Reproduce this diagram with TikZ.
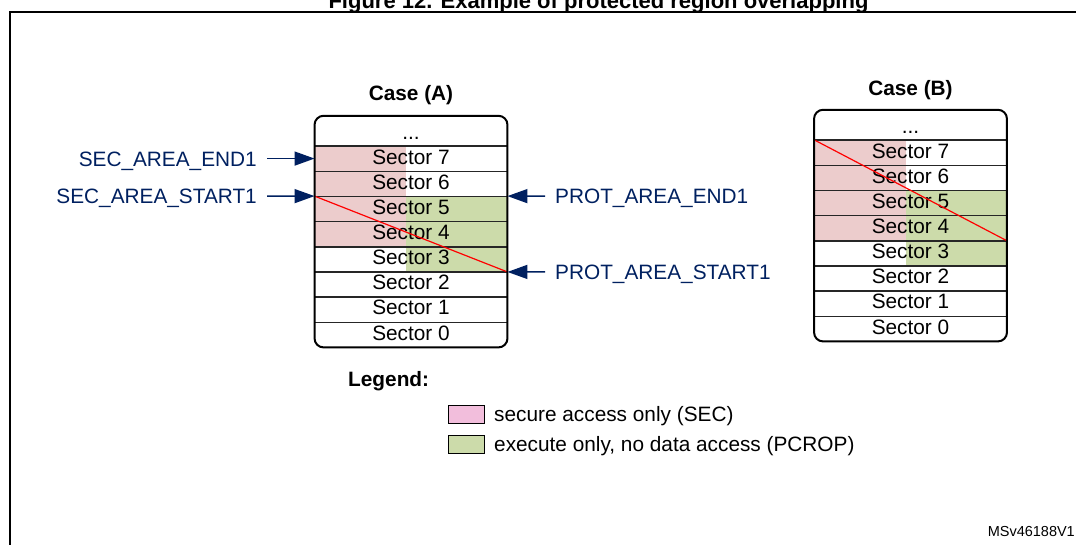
\documentclass[tikz,border=0pt]{standalone}
\usepackage{fontspec}
\setmainfont{Liberation Sans}
\usetikzlibrary{arrows.meta,backgrounds}
\definecolor{navy}{RGB}{0,32,96}
\definecolor{secfill}{RGB}{236,204,204}
\definecolor{protfill}{RGB}{204,219,170}
\definecolor{keysec}{RGB}{242,190,220}

\begin{document}
\begin{tikzpicture}[x=1pt,y=-1pt,
  font=\fontsize{20.8}{25}\selectfont,
  sector/.style={minimum width=192.5pt,minimum height=25.15pt,inner sep=0pt,
    text height=15pt,text depth=4pt},
  dotsrow/.style={minimum width=192.5pt,minimum height=30pt,inner sep=0pt,
    text height=19pt,text depth=1pt},
  rowline/.style={line width=1.5pt,black!85},
  blockbox/.style={line width=2pt,rounded corners=9pt},
  crossline/.style={red,line width=1.2pt},
  ptr/.style={navy,line width=1.5pt,-{Triangle[length=20pt,width=14pt]}},
  lbl/.style={text=navy,text height=15pt,text depth=0pt,inner ysep=0pt,inner xsep=10pt},
  casehead/.style={font=\fontsize{20.8}{25}\selectfont\bfseries},
  keybox/.style={draw,line width=1pt,minimum width=36pt,minimum height=18pt,inner sep=0pt}]
\useasboundingbox (0,0) rectangle (1076,545);
\node[font=\fontsize{22}{26}\selectfont\bfseries,anchor=base] (title) at (598.5,9) {Figure 12. Example of protected region overlapping};
\draw[line width=2pt] (10,545) -- (10,12.5) -- (1076,12.5);
% case (A)
\node[casehead] (caseA) at (411,95) {Case (A)};
\node[dotsrow] (adots) at (411,131) {...};
\node[sector] (a7) at (411,158.575) {Sector 7};
\node[sector] (a6) at (411,183.725) {Sector 6};
\node[sector] (a5) at (411,208.875) {Sector 5};
\node[sector] (a4) at (411,234.025) {Sector 4};
\node[sector] (a3) at (411,259.175) {Sector 3};
\node[sector] (a2) at (411,284.325) {Sector 2};
\node[sector] (a1) at (411,309.475) {Sector 1};
\node[sector] (a0) at (411,334.625) {Sector 0};
\begin{scope}[on background layer]
\fill[secfill] (a7.north west) rectangle ([xshift=-5pt]a4.south);
\fill[protfill] ([xshift=-5pt]a5.north) rectangle (a3.south east);
\end{scope}
\draw[rowline] (adots.south west) -- (adots.south east);
\draw[rowline] (a7.south west) -- (a7.south east);
\draw[rowline] (a6.south west) -- (a6.south east);
\draw[rowline] (a5.south west) -- (a5.south east);
\draw[rowline] (a4.south west) -- (a4.south east);
\draw[rowline] (a3.south west) -- (a3.south east);
\draw[rowline] (a2.south west) -- (a2.south east);
\draw[rowline] (a1.south west) -- (a1.south east);
\draw[crossline] (a5.north west) -- (a3.south east);
\draw[blockbox] (adots.north west) rectangle (a0.south east);
% pointers of case (A)
\node[lbl,anchor=east] (secEnd) at (267,158.575) {SEC\_AREA\_END1};
\node[lbl,anchor=east] (secStart) at (267,196.3) {SEC\_AREA\_START1};
\node[lbl,anchor=west] (protEnd) at (545,196.3) {PROT\_AREA\_END1};
\node[lbl,anchor=west] (protStart) at (545,271.75) {PROT\_AREA\_START1};
\draw[ptr] (secEnd) -- (a7.west);
\draw[ptr] (secStart) -- (a5.north west);
\draw[ptr] (protEnd) -- (a5.north east);
\draw[ptr] (protStart) -- (a3.south east);
% case (B)
\node[casehead] (caseB) at (910.5,90.3) {Case (B)};
\node[dotsrow] (bdots) at (910.5,125) {...};
\node[sector] (b7) at (910.5,152.575) {Sector 7};
\node[sector] (b6) at (910.5,177.725) {Sector 6};
\node[sector] (b5) at (910.5,202.875) {Sector 5};
\node[sector] (b4) at (910.5,228.025) {Sector 4};
\node[sector] (b3) at (910.5,253.175) {Sector 3};
\node[sector] (b2) at (910.5,278.325) {Sector 2};
\node[sector] (b1) at (910.5,303.475) {Sector 1};
\node[sector] (b0) at (910.5,328.625) {Sector 0};
\begin{scope}[on background layer]
\fill[secfill] (b7.north west) rectangle ([xshift=-4.5pt]b4.south);
\fill[protfill] ([xshift=-4.5pt]b5.north) rectangle (b3.south east);
\end{scope}
\draw[rowline] (bdots.south west) -- (bdots.south east);
\draw[rowline] (b7.south west) -- (b7.south east);
\draw[rowline] (b6.south west) -- (b6.south east);
\draw[rowline] (b5.south west) -- (b5.south east);
\draw[rowline] (b4.south west) -- (b4.south east);
\draw[rowline] (b3.south west) -- (b3.south east);
\draw[rowline] (b2.south west) -- (b2.south east);
\draw[rowline] (b1.south west) -- (b1.south east);
\draw[crossline] (b7.north west) -- (b4.south east);
\draw[blockbox] (bdots.north west) rectangle (b0.south east);
% legend
\node[casehead,anchor=base west,inner sep=0pt] (lgHead) at (348,386.3) {Legend:};
\node[keybox,fill=keysec] (keySec) at (466,414) {};
\node[keybox,fill=protfill] (keyProt) at (466,444) {};
\node[anchor=base west,inner sep=0pt] (keySecTxt) at (494,421.3) {secure access only (SEC)};
\node[anchor=base west,inner sep=0pt] (keyProtTxt) at (494,451.3) {execute only, no data access (PCROP)};
\node[font=\fontsize{14.5}{17}\selectfont,anchor=base east,inner sep=0pt] (figId) at (1075,536.7) {MSv46188V1};
\end{tikzpicture}
\end{document}
